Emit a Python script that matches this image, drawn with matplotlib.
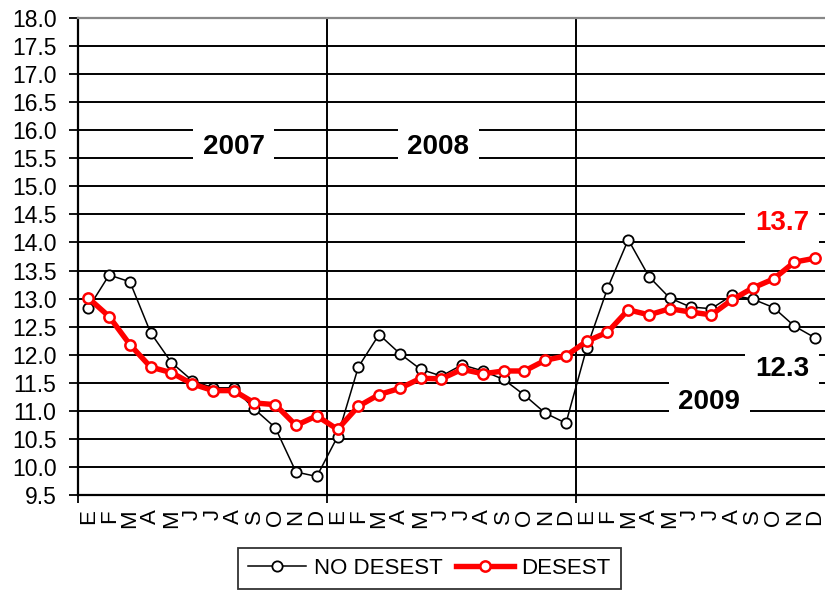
import matplotlib
matplotlib.use("Agg")
import matplotlib.pyplot as plt
from matplotlib.ticker import MultipleLocator, FixedLocator

plt.rcParams['font.family'] = ['Liberation Sans', 'DejaVu Sans']

# ---- data ----
months = ['E', 'F', 'M', 'A', 'M', 'J', 'J', 'A', 'S', 'O', 'N', 'D'] * 3

no_desest = [12.83, 13.42, 13.30, 12.39, 11.86, 11.54, 11.41, 11.41, 11.03, 10.70, 9.91, 9.83,
             10.54, 11.78, 12.36, 12.02, 11.74, 11.62, 11.82, 11.71, 11.56, 11.28, 10.96, 10.78,
             12.12, 13.18, 14.05, 13.39, 13.01, 12.85, 12.82, 13.06, 12.99, 12.84, 12.51, 12.30]

desest = [13.01, 12.68, 12.18, 11.78, 11.68, 11.48, 11.36, 11.36, 11.14, 11.11, 10.74, 10.91,
          10.67, 11.08, 11.29, 11.40, 11.58, 11.57, 11.74, 11.66, 11.71, 11.71, 11.90, 11.98,
          12.24, 12.40, 12.80, 12.71, 12.82, 12.76, 12.71, 12.98, 13.19, 13.35, 13.65, 13.72]

series_names = ['NO DESEST', 'DESEST']
year_labels = ['2007', '2008', '2009']
end_labels = ['12.3', '13.7']

# ---- figure ----
fig = plt.figure(figsize=(8.25, 5.93), dpi=100)
ax = fig.add_axes([78 / 825, 1 - 495 / 593, (825.5 - 78) / 825, (495 - 18) / 593])

x = list(range(len(months)))
ax.plot(x, no_desest, color='black', lw=1.1, marker='o', ms=7.4, mew=1.3,
        mfc='white', mec='black', zorder=3, label=series_names[0])
ax.plot(x, desest, color='#ff0000', lw=3.9, marker='o', ms=7.4, mew=1.8,
        mfc='white', mec='#ff0000', zorder=4, label=series_names[1])

ax.set_xlim(-0.5, len(months) - 0.5)
ax.set_ylim(9.5, 18.0)

# y axis
ax.yaxis.set_major_locator(MultipleLocator(0.5))
ax.yaxis.set_major_formatter(plt.FuncFormatter(lambda v, p: f"{v:.1f}"))
ax.tick_params(axis='y', which='major', length=6.5, width=1.3, pad=9,
               labelsize=16.5, direction='out', color='black')

# x axis
ax.set_xticks(x)
ax.set_xticklabels(months, rotation=90)
ax.tick_params(axis='x', which='major', length=0, pad=10, labelsize=16)
ax.xaxis.set_minor_locator(FixedLocator([-0.5, 11.5, 23.5]))
ax.tick_params(axis='x', which='minor', length=6, width=1.3, direction='out', color='black')

ax.grid(True, axis='y', which='major', color='black', lw=1.4)
ax.grid(True, axis='x', which='minor', color='black', lw=1.4)
ax.set_axisbelow(True)

for s in ['left', 'bottom']:
    ax.spines[s].set_color('black')
    ax.spines[s].set_linewidth(1.6)
ax.spines['top'].set_color('#888888')
ax.spines['top'].set_linewidth(1.6)
ax.spines['right'].set_visible(False)

# annotations
box = dict(boxstyle='square,pad=0.35', fc='white', ec='none')
ax.text(7.0, 15.70, year_labels[0], fontsize=20, fontweight='bold', ha='center', va='center',
        bbox=box, zorder=2)
ax.text(16.85, 15.70, year_labels[1], fontsize=20, fontweight='bold', ha='center', va='center',
        bbox=box, zorder=2)
ax.text(29.9, 11.16, year_labels[2], fontsize=20, fontweight='bold', ha='center', va='center',
        bbox=box, zorder=2)
ax.text(33.4, 11.74, end_labels[0], fontsize=20, fontweight='bold', ha='center', va='center',
        bbox=box, zorder=2)
ax.text(33.4, 14.35, end_labels[1], fontsize=20, fontweight='bold', ha='center', va='center',
        color='#ff0000', bbox=box, zorder=2)

leg = fig.legend(loc='upper center', bbox_to_anchor=(429.5 / 825, 1 - 548 / 593), ncol=2,
                 fontsize=16, frameon=True, fancybox=False, borderaxespad=0,
                 handlelength=2.6, handletextpad=0.35, columnspacing=0.6, borderpad=0.45)
leg.get_frame().set_edgecolor('black')
leg.get_frame().set_linewidth(1.3)

fig.savefig('out.png', dpi=100)
